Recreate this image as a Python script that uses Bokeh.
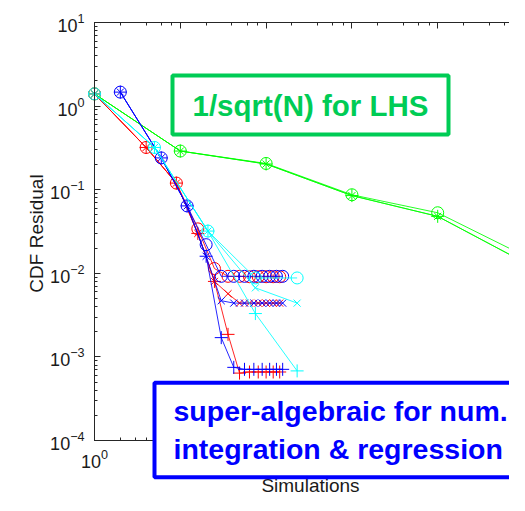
import math
from bokeh.plotting import figure
from bokeh.models import LogAxis, Label
from bokeh.embed import file_html
from bokeh.resources import INLINE

# ---------------- data ----------------
green_n = [1, 10, 100, 1000, 10000, 100000]
green_o = [1.4, 0.29, 0.206, 0.087, 0.053, 0.0164]
green_x = [1.4, 0.29, 0.203, 0.085, 0.048, 0.0137]
green_p = [1.4, 0.29, 0.203, 0.085, 0.048, 0.0137]

red_n = [1, 4, 9, 16, 25, 36, 49, 64, 81, 100, 121, 144]
red_o = [1.4, 0.32, 0.12, 0.034, 0.0114, 0.0092, 0.0092, 0.0091, 0.0091, 0.0091, 0.0091, 0.0091]
red_x = [1.4, 0.32, 0.12, 0.030, 0.0080, 0.0057, 0.0044, 0.0044, 0.0044, 0.0044, 0.0044, 0.0044]
red_p = [1.4, 0.32, 0.12, 0.030, 0.0080, 0.00186, 0.00064, 0.00066, 0.00066, 0.00066, 0.00066, 0.00066]

blue_n = [2, 6, 12, 20, 30, 42, 56, 72, 90, 110, 132, 156]
blue_o = [1.47, 0.24, 0.064, 0.022, 0.0092, 0.0092, 0.0092, 0.0092, 0.0092, 0.0092, 0.0092, 0.0092]
blue_x = [1.47, 0.24, 0.064, 0.016, 0.0047, 0.0044, 0.0044, 0.0044, 0.0044, 0.0044, 0.0044, 0.0044]
blue_p = [1.47, 0.24, 0.064, 0.016, 0.0017, 0.00075, 0.00071, 0.00071, 0.00071, 0.00071, 0.00071, 0.00071]

cyan_n = [1, 5, 21, 75, 230]
cyan_o = [1.4, 0.32, 0.032, 0.0088, 0.0088]
cyan_x = [1.4, 0.32, 0.032, 0.0067, 0.0044]
cyan_p = [1.4, 0.32, 0.032, 0.0033, 0.00068]

x_label = "Simulations"
y_label = "CDF Residual"
note_lhs = "1/sqrt(N) for LHS"
note_num = "super-algebraic for num.\nintegration & regression"

# axes extent of the (cropped) original plot box
X_LOW, X_HIGH = 1, 1e5
Y_LOW, Y_HIGH = 1e-4, 10

# ---------------- figure ----------------
W, H = 509, 495
X0, XDEC = 94, 85.8      # pixel of x = 1, pixels per decade
Y0, YDEC = 22, 83.6      # pixel of y = 10, pixels per decade


def xd(px):
    return 10 ** ((px - X0) / XDEC)


def yd(py):
    return 10 ** (1 - (py - Y0) / YDEC)


p = figure(width=W, height=H, x_axis_type="log", y_axis_type="log",
           x_range=(xd(0), xd(W)), y_range=(yd(H), yd(0)),
           output_backend="svg", toolbar_location=None,
           min_border=0, min_border_left=0, min_border_right=0,
           min_border_top=0, min_border_bottom=0)
p.grid.visible = False
p.outline_line_color = None
p.background_fill_color = "white"
p.border_fill_color = "white"

bottom = p.below[0]
left = p.left[0]
top = LogAxis()
p.add_layout(top, "above")

bottom.fixed_location = Y_LOW
bottom.bounds = (X_LOW, X_HIGH)
top.fixed_location = Y_HIGH
top.bounds = (X_LOW, X_HIGH)
left.fixed_location = X_LOW
left.bounds = (Y_LOW, Y_HIGH)

FONT = "Liberation Sans"
INK = "#1a1a1a"
for ax in [bottom, left, top]:
    ax.major_tick_in = 6
    ax.major_tick_out = 0
    ax.minor_tick_in = 3
    ax.minor_tick_out = 0
    ax.axis_line_color = "#262626"
    ax.major_tick_line_color = "#262626"
    ax.minor_tick_line_color = "#262626"
    ax.major_label_text_font = FONT
    ax.major_label_text_font_size = "18px"
    ax.major_label_text_color = INK

top.major_label_text_font_size = "1px"
top.major_label_text_alpha = 0
top.major_label_standoff = 0
bottom.major_label_standoff = 8
left.major_label_standoff = 10


def series(xs, ys, color, marker, size):
    p.line(xs, ys, line_color=color, line_width=1, line_alpha=0.85)
    p.scatter(xs, ys, marker=marker, size=size, line_color=color,
              fill_color=None, line_width=1)


GREEN, RED, BLUE, CYAN = "#00ff00", "#ff0000", "#0000ff", "#00ffff"
for c, n, o, x, pl in [(GREEN, green_n, green_o, green_x, green_p),
                       (RED, red_n, red_o, red_x, red_p),
                       (BLUE, blue_n, blue_o, blue_x, blue_p),
                       (CYAN, cyan_n, cyan_o, cyan_x, cyan_p)]:
    series(n, o, c, "circle", 12)
    series(n, x, c, "x", 10)
    series(n, pl, c, "cross", 13)

# axis titles
p.add_layout(Label(x=xd(310), y=yd(485), text=x_label, text_align="center",
                   text_baseline="middle", text_font=FONT, text_font_size="19px",
                   text_color=INK))
p.add_layout(Label(x=xd(36), y=yd(233), text=y_label, text_align="center",
                   text_baseline="middle", angle=math.pi / 2, text_font=FONT,
                   text_font_size="19px", text_color=INK))

# annotation boxes
p.add_layout(Label(x=xd(310), y=yd(104.5), text=note_lhs, text_align="center",
                   text_baseline="middle", text_font=FONT, text_font_style="bold",
                   text_font_size="29.5px", text_color="#00cc55",
                   background_fill_color="white", border_line_color="#00cc55",
                   border_line_width=4, padding=(20, 13)))

p.add_layout(Label(x=xd(154), y=yd(429.5), text=note_num, text_align="left",
                   text_baseline="middle", text_font=FONT, text_font_style="bold",
                   text_font_size="28.5px", text_color="#0000ff",
                   background_fill_color="white", border_line_color="#0000ff",
                   border_line_width=4, padding=(19, 12)))

open("out.html", "w").write(file_html(p, INLINE))
